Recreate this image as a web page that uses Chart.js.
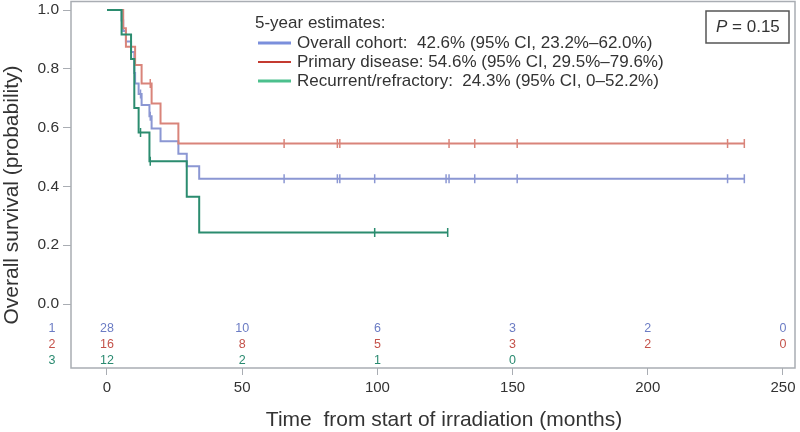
<!DOCTYPE html>
<html>
<head>
<meta charset="utf-8">
<script src="https://cdn.jsdelivr.net/npm/chart.js@4.4.1/dist/chart.umd.min.js"></script>
<style>
  html, body { margin: 0; padding: 0; background: #fff; }
  #wrap { width: 800px; height: 432px; }
</style>
</head>
<body>
<div id="wrap"><canvas id="km"></canvas></div>
<script>
// Kaplan-Meier step points (time in months, survival probability)
const overallTime = [0, 5.4, 6.0, 7.0, 8.9, 10.1, 10.4, 11.7, 12.8, 15.7, 16.5, 19.8, 26.4, 29.5, 34.1, 235.7];
const overallSurv = [1, 0.964, 0.929, 0.893, 0.857, 0.786, 0.75, 0.714, 0.677, 0.639, 0.597, 0.554, 0.511, 0.469, 0.426, 0.426];

const primaryTime = [0, 6.0, 7.0, 10.4, 12.8, 16.5, 19.8, 26.4, 235.7];
const primarySurv = [1, 0.938, 0.875, 0.813, 0.75, 0.682, 0.614, 0.546, 0.546];

const recurrentTime = [0, 5.4, 8.9, 10.1, 11.7, 15.7, 29.5, 34.1, 126];
const recurrentSurv = [1, 0.917, 0.833, 0.667, 0.583, 0.486, 0.365, 0.243, 0.243];

// censored observations
const overallCensorTime = [12.4, 16.0, 65.5, 85.2, 86.1, 99, 125.4, 126.5, 136, 151.7, 229.5, 235.7];
const overallCensorSurv = [0.714, 0.639, 0.426, 0.426, 0.426, 0.426, 0.426, 0.426, 0.426, 0.426, 0.426, 0.426];
const primaryCensorTime = [16.0, 65.5, 85.2, 86.1, 126.5, 136, 151.7, 229.5, 235.7];
const primaryCensorSurv = [0.75, 0.546, 0.546, 0.546, 0.546, 0.546, 0.546, 0.546, 0.546];
const recurrentCensorTime = [12.4, 16.0, 99, 126];
const recurrentCensorSurv = [0.583, 0.486, 0.243, 0.243];

// numbers at risk
const riskTimes = [0, 50, 100, 150, 200, 250];
const overallAtRisk = [28, 10, 6, 3, 2, 0];
const primaryAtRisk = [16, 8, 5, 3, 2, 0];
const recurrentAtRisk = [12, 2, 1, 0];

const xTicks = [0, 50, 100, 150, 200, 250];
const yTicks = [0, 0.2, 0.4, 0.6, 0.8, 1.0];

const legendTitle = "5-year estimates:";
const legendLabels = [
  "Overall cohort:  42.6% (95% CI, 23.2%\u201362.0%)",
  "Primary disease: 54.6% (95% CI, 29.5%\u201379.6%)",
  "Recurrent/refractory:  24.3% (95% CI, 0\u201352.2%)",
];
const pValue = "0.15";

const FONT = "'Liberation Sans', Arial, sans-serif";
const TEXT = "#333";
const blueLine = "#8b97d3";
const redLine = "#d9847a";
const greenLine = "#2b8c6f";
const legendColors = ["#7b8fdc", "#c43a30", "#4cc08d"];
const legendWidths = [3, 2, 3];
const riskColors = ["#6b7cc4", "#c4524a", "#2a8a70"];

const toPoints = (xs, ys) => xs.map((x, i) => ({ x: x, y: ys[i] }));

const curve = (label, xs, ys, color, order) => ({
  type: "line",
  label: label,
  data: toPoints(xs, ys),
  stepped: "before",
  borderColor: color,
  borderWidth: 2,
  pointRadius: 0,
  fill: false,
  order: order,
});

const censor = (label, xs, ys, color, order) => ({
  type: "scatter",
  label: label,
  data: toPoints(xs, ys),
  pointStyle: "line",
  rotation: 90,
  pointRadius: 4.5,
  borderColor: color,
  backgroundColor: color,
  borderWidth: 1.5,
  order: order,
});

const framePlugin = {
  id: "frame",
  beforeDraw(chart) {
    const c = chart.ctx;
    c.save();
    c.fillStyle = "#fff";
    c.fillRect(0, 0, chart.width, chart.height);
    c.restore();
  },
  afterDraw(chart) {
    const c = chart.ctx;
    const a = chart.chartArea;
    const xs = chart.scales.x;
    const ys = chart.scales.y;
    c.save();
    c.strokeStyle = "#a9adb3";
    c.lineWidth = 1.5;
    c.strokeRect(a.left, a.top, a.right - a.left, a.bottom - a.top);

    // axis titles
    c.fillStyle = TEXT;
    c.font = "21px " + FONT;
    c.textAlign = "center";
    c.textBaseline = "middle";
    c.fillText("Time  from start of irradiation (months)", 444, 420);
    c.save();
    c.translate(12, 195);
    c.rotate(-Math.PI / 2);
    c.fillText("Overall survival (probability)", 0, 0);
    c.restore();

    // numbers at risk
    const rows = [overallAtRisk, primaryAtRisk, recurrentAtRisk];
    const rowY = [-0.082, -0.139, -0.194];
    c.font = "12.5px " + FONT;
    rows.forEach((vals, r) => {
      const y = ys.getPixelForValue(rowY[r]);
      c.fillStyle = riskColors[r];
      c.fillText(String(r + 1), 52, y);
      vals.forEach((v, i) => {
        c.fillText(String(v), xs.getPixelForValue(riskTimes[i]), y);
      });
    });

    // legend
    c.textAlign = "left";
    c.font = "17px " + FONT;
    c.fillStyle = TEXT;
    c.fillText(legendTitle, 255, 23);
    legendLabels.forEach((txt, i) => {
      const y = 43 + i * 19;
      c.strokeStyle = legendColors[i];
      c.lineWidth = legendWidths[i];
      c.beginPath();
      c.moveTo(258, y);
      c.lineTo(291, y);
      c.stroke();
      c.fillStyle = TEXT;
      c.fillText(txt, 297, y);
    });

    // P value box
    c.strokeStyle = "#555";
    c.lineWidth = 1.5;
    c.strokeRect(706, 11, 83, 32);
    c.font = "italic 17px " + FONT;
    c.fillText("P", 716, 27);
    const pw = c.measureText("P").width;
    c.font = "17px " + FONT;
    c.fillText(" = " + pValue, 716 + pw, 27);
    c.restore();
  },
};

new Chart(document.getElementById("km"), {
  data: {
    datasets: [
      curve("Overall cohort", overallTime, overallSurv, blueLine, 3),
      curve("Primary disease", primaryTime, primarySurv, redLine, 2),
      curve("Recurrent/refractory", recurrentTime, recurrentSurv, greenLine, 1),
      censor("Overall censored", overallCensorTime, overallCensorSurv, blueLine, 3),
      censor("Primary censored", primaryCensorTime, primaryCensorSurv, redLine, 2),
      censor("Recurrent censored", recurrentCensorTime, recurrentCensorSurv, greenLine, 1),
    ],
  },
  options: {
    responsive: true,
    maintainAspectRatio: false,
    animation: false,
    layout: { autoPadding: false, padding: { top: 1.5, right: 5, left: 0, bottom: 0 } },
    plugins: {
      legend: { display: false },
      tooltip: { enabled: false },
    },
    scales: {
      x: {
        type: "linear",
        min: -13.31,
        max: 254.44,
        afterBuildTicks: (scale) => {
          scale.ticks = xTicks.map((v) => ({ value: v }));
        },
        afterFit: (scale) => {
          scale.height = 64;
          scale.paddingLeft = 0;
          scale.paddingRight = 0;
        },
        grid: { display: true, drawOnChartArea: false, drawTicks: true, tickLength: 7, color: "#a9adb3" },
        border: { display: false },
        ticks: { color: TEXT, font: { size: 15, family: FONT }, padding: 4, maxRotation: 0 },
      },
      y: {
        type: "linear",
        min: -0.2177,
        max: 1.029,
        afterBuildTicks: (scale) => {
          scale.ticks = yTicks.map((v) => ({ value: v }));
        },
        afterFit: (scale) => {
          scale.width = 71;
          scale.paddingTop = 0;
          scale.paddingBottom = 0;
        },
        grid: { display: true, drawOnChartArea: false, drawTicks: true, tickLength: 8, color: "#a9adb3" },
        border: { display: false },
        ticks: {
          color: TEXT,
          font: { size: 15.5, family: FONT },
          padding: 4,
          callback: (v) => v.toFixed(1),
        },
      },
    },
  },
  plugins: [framePlugin],
});
</script>
</body>
</html>
